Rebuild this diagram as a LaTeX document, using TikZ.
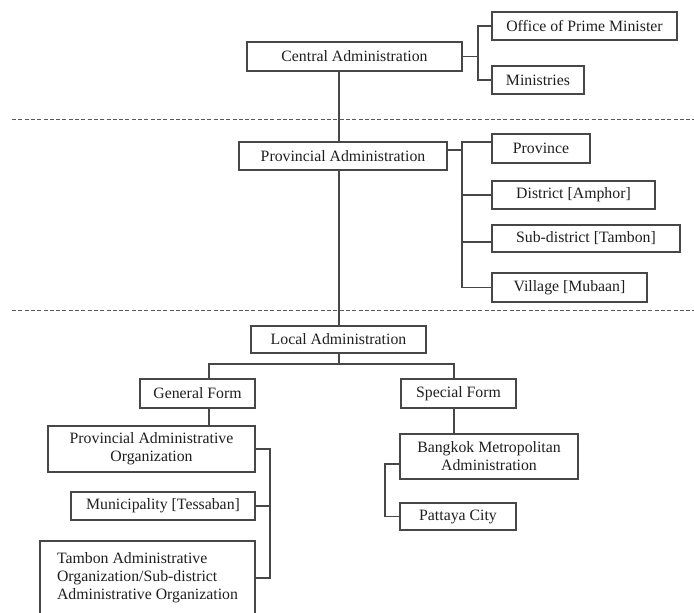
\documentclass[tikz,border=0pt]{standalone}
\usepackage{fontspec}
\setmainfont{Liberation Serif}
\newcommand\diagfont{\fontsize{15.8}{18}\selectfont}
\tikzset{
  box/.style={draw=black!72, line width=1.1pt, fill=white, text=black!88,
              inner sep=0pt, align=center, font=\diagfont},
  link/.style={draw=black!72, line width=1.1pt},
  divider/.style={draw=black!65, line width=1pt, dash pattern=on 4pt off 2.3pt}
}
\begin{document}
\begin{tikzpicture}[x=1pt, y=-1pt]
\useasboundingbox (0,0) rectangle (694,613);

% tier dividers
\draw[divider] (12,119.5) -- (694,119.5);
\draw[divider] (12,310.5) -- (694,310.5);

% junction columns / rows
\coordinate (tk) at (339,0);
\coordinate (cj) at (478,0);
\coordinate (pj) at (462,0);
\coordinate (lj) at (0,364);
\coordinate (gx) at (209,0);
\coordinate (sx) at (454,0);
\coordinate (gj) at (270,0);
\coordinate (bj) at (385,0);

% central tier
\node[box, minimum width=215pt, minimum height=29pt] (ca)  at (354.5,56.5) {Central Administration};
\node[box, minimum width=185pt, minimum height=28pt] (opm) at (584.5,26)   {Office of Prime Minister};
\node[box, minimum width=92pt,  minimum height=28pt] (min) at (538,80)     {Ministries};

% provincial tier
\node[box, minimum width=208pt, minimum height=28pt] (pa)  at (343,156)    {Provincial Administration};
\node[box, minimum width=98pt,  minimum height=29pt] (pv)  at (541,148.5)  {Province};
\node[box, minimum width=163pt, minimum height=28pt] (dis) at (573.5,195)  {District [Amphor]};
\node[box, minimum width=188pt, minimum height=27pt] (sub) at (586,238.5)  {Sub-district [Tambon]};
\node[box, minimum width=155pt, minimum height=29pt] (vil) at (569.5,287.5){Village [Mubaan]};

% local tier
\node[box, minimum width=175pt, minimum height=27pt] (la)  at (338.5,339.5){Local Administration};
\node[box, minimum width=115pt, minimum height=29pt] (gf)  at (197.5,393.5){General Form};
\node[box, minimum width=115pt, minimum height=29pt] (sf)  at (458.5,393.5){Special Form};
\node[box, minimum width=207pt, minimum height=46pt] (pao) at (151.5,449)  {Provincial Administrative\\Organization};
\node[box, minimum width=184pt, minimum height=28pt] (mun) at (163,506)    {Municipality [Tessaban]};
\node[box, minimum width=215pt, minimum height=74pt, align=left] (tao) at (147.5,578)
  {Tambon Administrative\\Organization/Sub-district\\Administrative Organization};
\node[box, minimum width=178pt, minimum height=45pt] (bma) at (489,456.5)  {Bangkok Metropolitan\\Administration};
\node[box, minimum width=116pt, minimum height=27pt] (pc)  at (458,516.5)  {Pattaya City};

% main trunk
\draw[link] (ca.south -| tk) -- (pa.north -| tk);
\draw[link] (pa.south -| tk) -- (la.north -| tk);

% central branches
\draw[link] (ca.east) -- (ca.east -| cj);
\draw[link] (opm.west) -| (cj |- min.west) -- (min.west);

% provincial branches
\draw[link] ([yshift=6pt]pa.east) -- ([yshift=6pt]pa.east -| pj);
\draw[link] ([yshift=6.5pt]pv.west) -| (pj |- vil.west) -- (vil.west);
\draw[link] (dis.west) -- (dis.west -| pj);
\draw[link] ([yshift=-3.5pt]sub.west) -- ([yshift=-3.5pt]sub.west -| pj);

% local branches
\draw[link] (la.south -| tk) -- (lj -| tk);
\draw[link] (gf.north -| gx) |- (lj -| sx) -- (sf.north -| sx);
\draw[link] (gf.south -| gx) -- (pao.north -| gx);
\draw[link] (sf.south -| sx) -- (bma.north -| sx);
\draw[link] (pao.east) -| (gj |- tao.east) -- (tao.east);
\draw[link] (mun.east) -- (mun.east -| gj);
\draw[link] ([yshift=-7.5pt]bma.west) -| (bj |- pc.west) -- (pc.west);
\end{tikzpicture}
\end{document}
